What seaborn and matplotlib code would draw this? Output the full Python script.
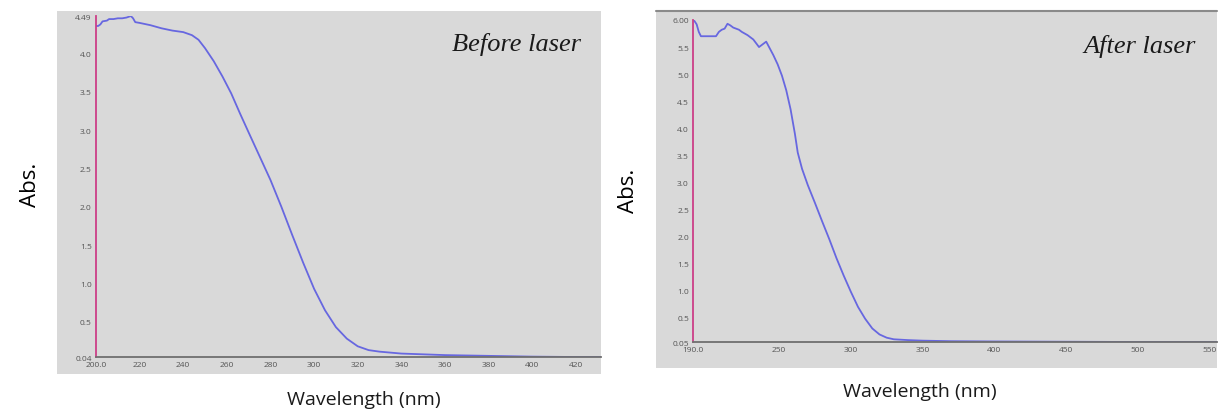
import matplotlib
matplotlib.use("Agg")
import matplotlib.pyplot as plt
import seaborn as sns
from matplotlib.patches import Rectangle
from matplotlib.lines import Line2D

# spectra
wl_before = [200, 201, 202, 203, 205, 206, 208, 210, 212, 214, 216, 217, 218, 220,
             225, 230, 235, 240, 244, 247, 250, 254, 258, 262, 266, 270, 275, 280,
             285, 290, 295, 300, 305, 310, 315, 320, 325, 330, 340, 350, 360, 380,
             400, 420, 432]
abs_before = [4.36, 4.36, 4.38, 4.42, 4.43, 4.45, 4.45, 4.46, 4.46, 4.47, 4.49, 4.46,
              4.41, 4.40, 4.37, 4.33, 4.30, 4.28, 4.24, 4.18, 4.07, 3.90, 3.70, 3.48,
              3.22, 2.97, 2.66, 2.35, 2.00, 1.63, 1.27, 0.93, 0.65, 0.43, 0.28, 0.18,
              0.13, 0.11, 0.085, 0.075, 0.065, 0.055, 0.045, 0.04, 0.04]

wl_after = [190, 191, 192.5, 194, 195.5, 200, 206, 208, 210, 212, 214, 216, 218, 220,
            222, 224, 228, 232, 236, 239, 241, 243, 246, 249, 252, 255, 258, 261, 263,
            266, 270, 275, 280, 285, 290, 295, 300, 305, 310, 315, 320, 325, 330, 340,
            350, 370, 400, 450, 500, 556]
abs_after = [6.00, 5.98, 5.92, 5.78, 5.70, 5.70, 5.70, 5.78, 5.82, 5.84, 5.93, 5.90,
             5.86, 5.84, 5.82, 5.78, 5.72, 5.64, 5.50, 5.56, 5.60, 5.50, 5.35, 5.18,
             4.97, 4.70, 4.35, 3.90, 3.55, 3.25, 2.95, 2.62, 2.28, 1.95, 1.60, 1.28,
             0.98, 0.70, 0.48, 0.30, 0.19, 0.13, 0.10, 0.085, 0.075, 0.065, 0.06,
             0.055, 0.05, 0.05]

ticks_before_x = [200, 220, 240, 260, 280, 300, 320, 340, 360, 380, 400, 420]
labels_before_x = ["200.0", "220", "240", "260", "280", "300", "320", "340", "360",
                   "380", "400", "420"]
ticks_before_y = [0.04, 0.5, 1.0, 1.5, 2.0, 2.5, 3.0, 3.5, 4.0, 4.49]
labels_before_y = ["0.04", "0.5", "1.0", "1.5", "2.0", "2.5", "3.0", "3.5", "4.0", "4.49"]

ticks_after_x = [190, 200, 250, 300, 350, 400, 450, 500, 550]
labels_after_x = ["190.0", "", "250", "300", "350", "400", "450", "500", "550"]
ticks_after_y = [0.05, 0.5, 1.0, 1.5, 2.0, 2.5, 3.0, 3.5, 4.0, 4.5, 5.0, 5.5, 6.0]
labels_after_y = ["0.05", "0.5", "1.0", "1.5", "2.0", "2.5", "3.0", "3.5", "4.0",
                  "4.5", "5.0", "5.5", "6.00"]

sns.set_theme(style="white")
plt.rcParams['font.family'] = ['Open Sans', 'DejaVu Sans']

grey = "#d9d9d9"
line_col = "#6767e0"
pink = "#cc3f88"

fig = plt.figure(figsize=(12.26, 4.10), dpi=100)

# grey panels behind each chart
fig.patches.append(Rectangle((0.0465, 0.0854), 0.4437, 0.885, transform=fig.transFigure,
                             facecolor=grey, edgecolor="none", zorder=0))
fig.patches.append(Rectangle((0.535, 0.10), 0.4576, 0.8707, transform=fig.transFigure,
                             facecolor=grey, edgecolor="none", zorder=0))
fig.lines.append(Line2D([0.535, 0.9926], [0.9707, 0.9707], transform=fig.transFigure,
                        color="#8a8a8a", linewidth=1.5))

ax1 = fig.add_axes([0.0783, 0.1268, 0.412, 0.8317])
ax2 = fig.add_axes([0.5653, 0.1634, 0.4274, 0.7854])

panels = [
    (ax1, wl_before, abs_before, (200, 431.6), (0.04, 4.49), ticks_before_x, labels_before_x,
     ticks_before_y, labels_before_y, "Before laser"),
    (ax2, wl_after, abs_after, (190, 555.4), (0.05, 6.0), ticks_after_x, labels_after_x,
     ticks_after_y, labels_after_y, "After laser"),
]

for ax, x, y, xl, yl, xt, xtl, yt, ytl, title in panels:
    ax.set_facecolor(grey)
    sns.lineplot(x=x, y=y, ax=ax, color=line_col, linewidth=1.3)
    ax.set_xlim(*xl)
    ax.set_ylim(*yl)
    ax.set_xticks(xt)
    ax.set_xticklabels(xtl)
    ax.set_yticks(yt)
    ax.set_yticklabels(ytl)
    ax.tick_params(axis="both", labelsize=6, colors="#555555", length=2, width=1,
                   pad=2, direction="inout")
    for s in ["top", "right"]:
        ax.spines[s].set_visible(False)
    ax.spines["left"].set_color(pink)
    ax.spines["left"].set_linewidth(1.3)
    ax.spines["bottom"].set_color("#6f6f6f")
    ax.spines["bottom"].set_linewidth(1.3)
    ax.set_xlabel("")
    ax.set_ylabel("")
    ax.set_zorder(2)
    ax.text(0.96, 0.92, title, transform=ax.transAxes, ha="right", va="center",
            fontsize=19, style="italic", family=["Liberation Serif"], color="#1a1a1a")

fig.text(0.0245, 0.55, "Abs.", rotation=90, ha="center", va="center", fontsize=16,
         color="#000000")
fig.text(0.5125, 0.535, "Abs.", rotation=90, ha="center", va="center", fontsize=16,
         color="#000000")
fig.text(0.297, 0.025, "Wavelength (nm)", ha="center", va="center", fontsize=14,
         color="#1a1a1a")
fig.text(0.750, 0.044, "Wavelength (nm)", ha="center", va="center", fontsize=14,
         color="#1a1a1a")

fig.savefig("out.png", dpi=100)
